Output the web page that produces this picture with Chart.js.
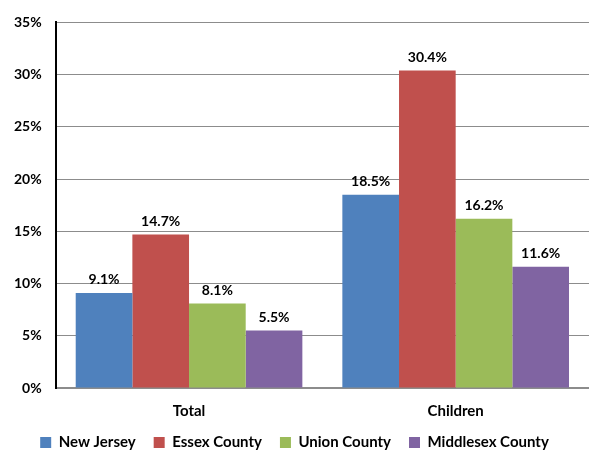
<!DOCTYPE html>
<html>
<head>
<meta charset="utf-8">
<script src="https://cdn.jsdelivr.net/npm/chart.js@4"></script>
<style>
  html, body { margin: 0; padding: 0; background: #fff; }
  #wrap { width: 589px; height: 455px; }
</style>
</head>
<body>
<div id="wrap"><canvas id="chart"></canvas></div>
<script>
const categories = ['Total', 'Children'];
const newJersey = [9.1, 18.5];
const essexCounty = [14.7, 30.4];
const unionCounty = [8.1, 16.2];
const middlesexCounty = [5.5, 11.6];
const yTicks = [0, 5, 10, 15, 20, 25, 30, 35];

// draw value labels above each bar
const valueLabels = {
    id: 'valueLabels',
    afterDatasetsDraw(chart) {
        const ctx = chart.ctx;
        ctx.save();
        ctx.font = 'bold 14px Lato';
        ctx.fillStyle = '#000';
        ctx.textAlign = 'center';
        ctx.textBaseline = 'bottom';
        chart.data.datasets.forEach(function (ds, i) {
            chart.getDatasetMeta(i).data.forEach(function (bar, j) {
                ctx.fillText(ds.data[j].toFixed(1) + '%', bar.x, bar.y - 6);
            });
        });
        ctx.restore();
    }
};

new Chart('chart', {
    type: 'bar',
    data: {
        labels: categories,
        datasets: [
            { label: 'New Jersey', data: newJersey, backgroundColor: '#4f81bd' },
            { label: 'Essex County', data: essexCounty, backgroundColor: '#c0504d' },
            { label: 'Union County', data: unionCounty, backgroundColor: '#9bbb59' },
            { label: 'Middlesex County', data: middlesexCounty, backgroundColor: '#8064a2' }
        ]
    },
    options: {
        responsive: true,
        maintainAspectRatio: false,
        animation: false,
        datasets: { bar: { barPercentage: 1, categoryPercentage: 0.85 } },
        layout: { padding: { top: -4, right: 0, left: 0, bottom: -5 } },
        scales: {
            x: {
                grid: { display: false, drawTicks: false },
                border: { color: '#8c8c8c', width: 2 },
                ticks: { color: '#000', font: { family: 'Lato', weight: 'bold', size: 15 }, padding: 14 },
                afterFit: function (scale) { scale.height = 29; }
            },
            y: {
                min: 0,
                max: 35,
                afterBuildTicks: function (axis) { axis.ticks = yTicks.map(function (v) { return { value: v }; }); },
                grid: { color: '#8c8c8c', drawTicks: false },
                border: { color: '#000', width: 2 },
                ticks: {
                    color: '#000',
                    font: { family: 'Lato', weight: 'bold', size: 14 },
                    padding: 14,
                    callback: function (v) { return v + '%'; }
                }
            }
        },
        plugins: {
            legend: {
                display: true,
                position: 'bottom',
                labels: {
                    color: '#000',
                    font: { family: 'Lato', weight: 'bold', size: 15 },
                    boxWidth: 11,
                    boxHeight: 11,
                    padding: 18
                }
            },
            tooltip: { enabled: false }
        }
    },
    plugins: [valueLabels]
});
</script>
</body>
</html>
